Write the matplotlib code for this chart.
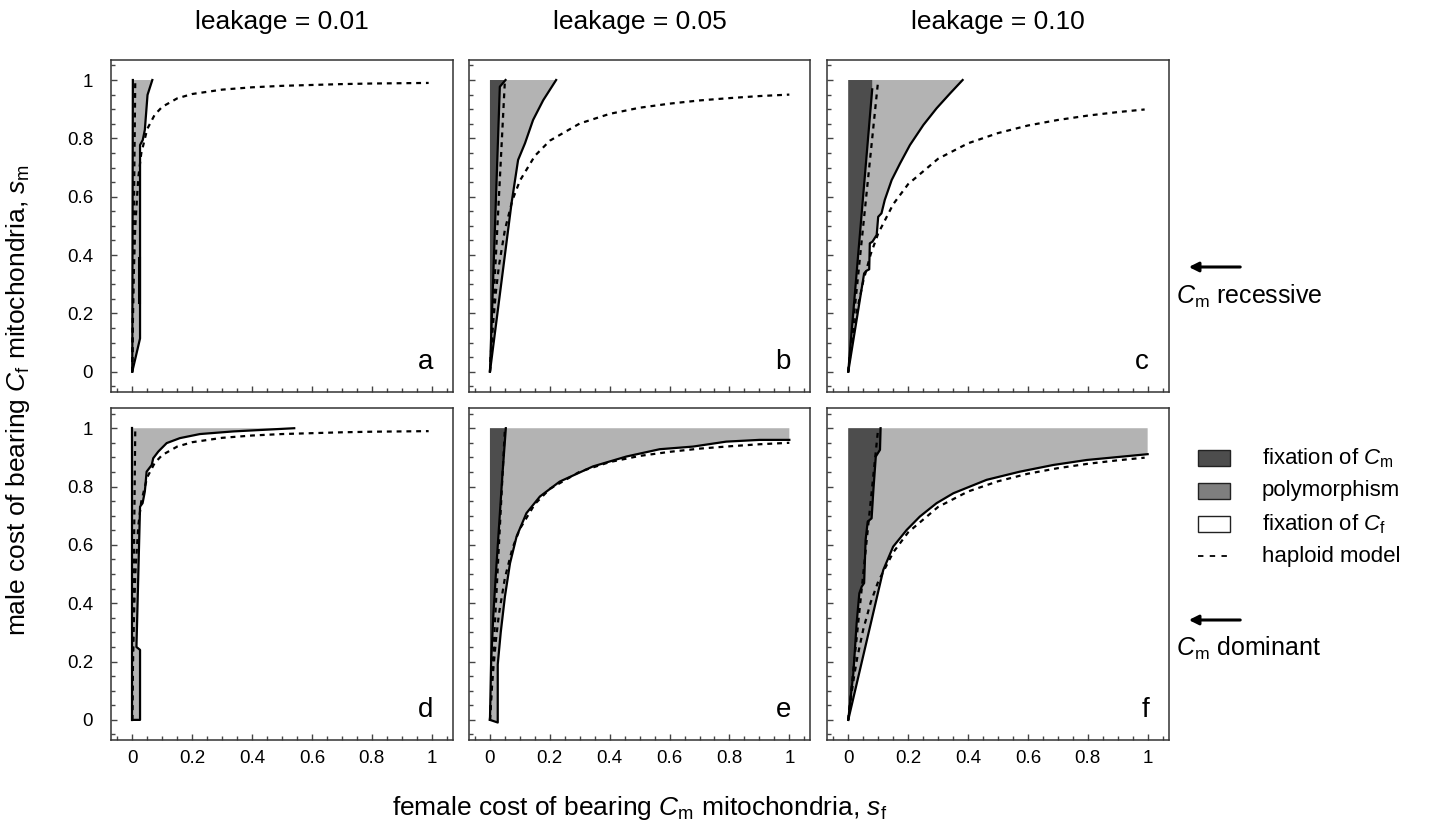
import matplotlib
matplotlib.use('Agg')
import matplotlib.pyplot as plt
from matplotlib.patches import Rectangle, FancyArrowPatch
from matplotlib.lines import Line2D
from matplotlib.ticker import MultipleLocator, FixedLocator

plt.rcParams['font.family'] = ['Liberation Sans', 'DejaVu Sans']
plt.rcParams['mathtext.fontset'] = 'custom'
plt.rcParams['mathtext.rm'] = 'Liberation Sans'
plt.rcParams['mathtext.it'] = 'Liberation Sans:italic'
plt.rcParams['mathtext.bf'] = 'Liberation Sans:bold'

# ---------------- data ----------------
leakage_labels = ['leakage = 0.01', 'leakage = 0.05', 'leakage = 0.10']
leakages = [0.01, 0.05, 0.10]
panel_letters = ['a', 'b', 'c', 'd', 'e', 'f']
tick_vals = [0, 0.2, 0.4, 0.6, 0.8, 1.0]
tick_labels = ['0', '0.2', '0.4', '0.6', '0.8', '1']

# haploid model boundaries (dashed curves)
hap_x_01 = [0, 0.002, 0.005, 0.01, 0.02, 0.03, 0.05, 0.075, 0.1, 0.15, 0.2, 0.3, 0.4, 0.5, 0.6, 0.7, 0.8, 0.99]
hap_y_01 = [0, 0.165, 0.331, 0.497, 0.664, 0.748, 0.832, 0.881, 0.908, 0.937, 0.952, 0.967, 0.975, 0.980, 0.983, 0.986, 0.988, 0.990]
hap_x_05 = [0, 0.005, 0.01, 0.02, 0.03, 0.05, 0.075, 0.1, 0.15, 0.2, 0.3, 0.4, 0.5, 0.6, 0.7, 0.8, 0.9, 1.0]
hap_y_05 = [0, 0.087, 0.160, 0.275, 0.363, 0.487, 0.588, 0.655, 0.740, 0.792, 0.851, 0.884, 0.905, 0.919, 0.930, 0.938, 0.945, 0.950]
hap_x_10 = [0, 0.01, 0.02, 0.03, 0.05, 0.075, 0.1, 0.15, 0.2, 0.3, 0.4, 0.5, 0.6, 0.7, 0.8, 0.9, 0.99]
hap_y_10 = [0, 0.083, 0.153, 0.213, 0.310, 0.403, 0.474, 0.574, 0.643, 0.730, 0.783, 0.818, 0.844, 0.863, 0.878, 0.890, 0.899]
# haploid straight boundary: from (0,0) to (leakage, 1)
hap_line_top_x = [0.01, 0.05, 0.10]

# diploid model, C_m recessive
a_poly_x = [0, 0.026, 0.026, 0.035, 0.042, 0.051, 0.067]
a_poly_y = [0, 0.114, 0.777, 0.794, 0.829, 0.949, 1.0]
a_cm_x = [0, 0.002]
a_cm_y = [0, 1.0]
a_extra_x = [0.023, 0.023]
a_extra_y = [0.24, 0.39]

b_poly_x = [0, 0.072, 0.094, 0.117, 0.144, 0.178, 0.221]
b_poly_y = [0, 0.577, 0.726, 0.783, 0.863, 0.931, 1.0]
b_cm_x = [0, 0.033, 0.052]
b_cm_y = [0, 0.977, 1.0]

c_poly_x = [0, 0.053, 0.061, 0.070, 0.072, 0.081, 0.095, 0.100, 0.111, 0.122, 0.145, 0.173, 0.206, 0.251, 0.295, 0.340, 0.382]
c_poly_y = [0, 0.337, 0.346, 0.351, 0.440, 0.446, 0.469, 0.531, 0.543, 0.589, 0.657, 0.714, 0.777, 0.846, 0.903, 0.954, 1.0]
c_cm_x = [0, 0.080]
c_cm_y = [0, 0.968]

# diploid model, C_m dominant
d_poly_x = [0, 0.026, 0.026, 0.014, 0.026, 0.0345, 0.042, 0.048, 0.065, 0.070, 0.087, 0.115, 0.159, 0.226, 0.337, 0.541]
d_poly_y = [0, 0, 0.24, 0.25, 0.731, 0.743, 0.783, 0.851, 0.874, 0.897, 0.920, 0.949, 0.966, 0.980, 0.989, 1.0]
d_cm_x = [0, 0]
d_cm_y = [0, 1.0]

e_poly_x = [0, 0.026, 0.026, 0.036, 0.050, 0.067, 0.089, 0.122, 0.167, 0.233, 0.344, 0.456, 0.567, 0.678, 0.789, 0.900, 1.0]
e_poly_y = [0, -0.009, 0.19, 0.30, 0.423, 0.537, 0.629, 0.709, 0.766, 0.817, 0.869, 0.903, 0.928, 0.937, 0.954, 0.960, 0.960]
e_cm_x = [0, 0.004, 0.011, 0.020, 0.031, 0.042, 0.053]
e_cm_y = [0, 0.20, 0.354, 0.503, 0.674, 0.846, 1.0]

f_poly_x = [0, 0.117, 0.150, 0.195, 0.239, 0.295, 0.351, 0.462, 0.573, 0.685, 0.796, 1.0]
f_poly_y = [0, 0.514, 0.594, 0.651, 0.697, 0.743, 0.777, 0.823, 0.851, 0.874, 0.891, 0.911]
f_cm_x = [0, 0.017, 0.028, 0.037, 0.045, 0.053, 0.058, 0.065, 0.078, 0.084, 0.092, 0.106, 0.108]
f_cm_y = [0, 0.160, 0.331, 0.434, 0.457, 0.469, 0.617, 0.680, 0.691, 0.789, 0.903, 0.926, 1.0]

legend_labels = [r'fixation of $C_{\mathrm{m}}$', 'polymorphism',
                 r'fixation of $C_{\mathrm{f}}$', 'haploid model']

# ---------------- style ----------------
DARK = '#4d4d4d'
LIGHT = '#b3b3b3'
MID = '#7f7f7f'
W, H = 1429, 830

def fx(px):
    return px / W

def fy(py):
    return 1 - py / H

fig = plt.figure(figsize=(W / 100, H / 100), dpi=100)

col_left = [111.3, 469.0, 827.3]
row_bottom = [392.1, 740.3]
ax_w = 341.3
ax_h = 332.5

panels = [
    (a_poly_x, a_poly_y, a_cm_x, a_cm_y, hap_x_01, hap_y_01, hap_line_top_x[0]),
    (b_poly_x, b_poly_y, b_cm_x, b_cm_y, hap_x_05, hap_y_05, hap_line_top_x[1]),
    (c_poly_x, c_poly_y, c_cm_x, c_cm_y, hap_x_10, hap_y_10, hap_line_top_x[2]),
    (d_poly_x, d_poly_y, d_cm_x, d_cm_y, hap_x_01, hap_y_01, hap_line_top_x[0]),
    (e_poly_x, e_poly_y, e_cm_x, e_cm_y, hap_x_05, hap_y_05, hap_line_top_x[1]),
    (f_poly_x, f_poly_y, f_cm_x, f_cm_y, hap_x_10, hap_y_10, hap_line_top_x[2]),
]

for i, (px_, py_, cx, cy, hx, hy, ltop) in enumerate(panels):
    r, c = divmod(i, 3)
    ax = fig.add_axes([fx(col_left[c]), fy(row_bottom[r]), ax_w / W, ax_h / H])
    ax.set_xlim(-0.07, 1.07)
    ax.set_ylim(-0.07, 1.07)

    # polymorphism region
    gx = list(px_) + [px_[-1], 0]
    gy = list(py_) + [1.0, 1.0]
    ax.fill(gx, gy, color=LIGHT, lw=0, zorder=1)
    # fixation of C_m region
    dx = list(cx) + [cx[-1], 0]
    dy = list(cy) + [1.0, 1.0]
    ax.fill(dx, dy, color=DARK, lw=0, zorder=2)

    # haploid model
    ax.plot(hx, hy, color='k', lw=1.6, ls=(0, (2.2, 2.2)), zorder=3)
    ax.plot([0, ltop], [0, 1.0], color='k', lw=1.6, ls=(0, (2.2, 2.2)), zorder=3)

    # diploid boundaries
    ax.plot(px_, py_, color='k', lw=1.6, zorder=4, solid_joinstyle='round')
    ax.plot(cx, cy, color='k', lw=1.6, zorder=4, solid_joinstyle='round')
    if i == 0:
        ax.plot(a_extra_x, a_extra_y, color='k', lw=2.2, zorder=4)

    ax.text(1.005, 0.01, panel_letters[i], ha='right', va='baseline', fontsize=20)

    ax.xaxis.set_major_locator(FixedLocator(tick_vals))
    ax.yaxis.set_major_locator(FixedLocator(tick_vals))
    ax.xaxis.set_minor_locator(MultipleLocator(0.05))
    ax.yaxis.set_minor_locator(MultipleLocator(0.05))
    ax.tick_params(which='both', direction='in', color='#444444', width=1.0,
                   top=False, right=False)
    ax.tick_params(which='major', length=4.5)
    ax.tick_params(which='minor', length=3.0)
    ax.tick_params(axis='y', which='major', pad=13, labelsize=13.5)
    ax.tick_params(axis='x', which='major', pad=7, labelsize=13.5)
    if r == 1:
        ax.set_xticklabels(tick_labels)
    else:
        ax.set_xticklabels([])
    if c == 0:
        ax.set_yticklabels(tick_labels)
    else:
        ax.set_yticklabels([])
    for s in ax.spines.values():
        s.set_color('#333333')
        s.set_linewidth(1.1)

    if r == 0:
        fig.text(fx(col_left[c] + ax_w / 2), fy(22), leakage_labels[c],
                 ha='center', va='center', fontsize=19)

fig.text(fx(640), fy(808), r'female cost of bearing $C_{\mathrm{m}}$ mitochondria, $s_{\mathrm{f}}$',
         ha='center', va='center', fontsize=19)
fig.text(fx(18), fy(400), r'male cost of bearing $C_{\mathrm{f}}$ mitochondria, $s_{\mathrm{m}}$',
         ha='center', va='center', rotation=90, fontsize=19)

# arrows and dominance labels
for ya, yt, txt in [(267, 296, r'$C_{\mathrm{m}}$ recessive'),
                    (620, 648, r'$C_{\mathrm{m}}$ dominant')]:
    fig.add_artist(FancyArrowPatch((fx(1243), fy(ya)), (fx(1186), fy(ya)),
                                   transform=fig.transFigure, arrowstyle='-|>',
                                   mutation_scale=14, lw=2.2, color='k'))
    fig.text(fx(1176), fy(yt), txt, ha='left', va='center', fontsize=18)

# legend
rows_y = [458, 490.5, 524, 556]
fills = [DARK, MID, 'white']
for k in range(3):
    fig.add_artist(Rectangle((fx(1198), fy(rows_y[k] + 8)), 32 / W, 16 / H,
                             transform=fig.transFigure, facecolor=fills[k],
                             edgecolor='#222222', lw=1.0))
fig.add_artist(Line2D([fx(1198), fx(1230)], [fy(rows_y[3]), fy(rows_y[3])],
                      transform=fig.transFigure, color='k', lw=1.3,
                      ls=(0, (3, 3.5))))
for k in range(4):
    fig.text(fx(1262), fy(rows_y[k]), legend_labels[k], ha='left', va='center', fontsize=16)

fig.savefig('out.png', dpi=100)
